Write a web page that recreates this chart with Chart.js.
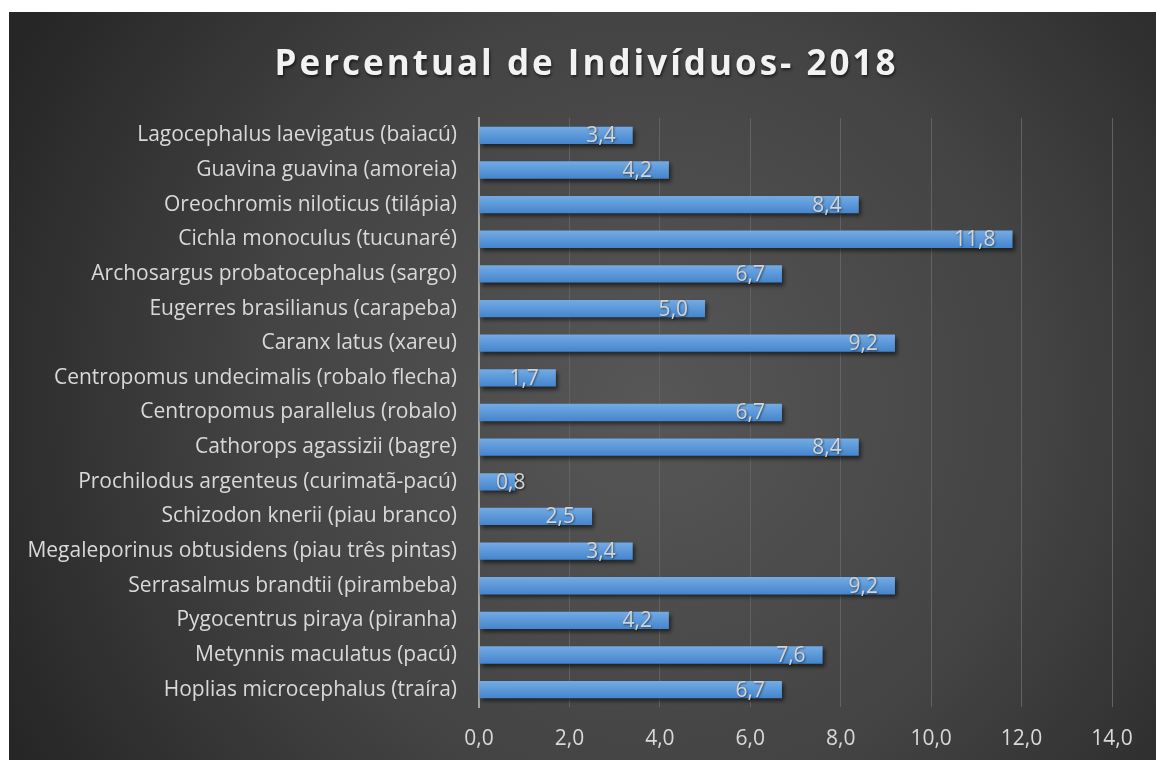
<!DOCTYPE html>
<html>
<head>
<meta charset="utf-8">
<script src="https://cdn.jsdelivr.net/npm/chart.js@4"></script>
<style>
  body { margin: 0; background: #fff; }
  #wrap { position: absolute; left: 9px; top: 12px; width: 1147px; height: 748px; }
</style>
</head>
<body>
<div id="wrap"><canvas id="bar-chart"></canvas></div>
<script>
var titleText = "Percentual de Indivíduos- 2018";

var species = [
  "Lagocephalus laevigatus (baiacú)",
  "Guavina guavina (amoreia)",
  "Oreochromis niloticus (tilápia)",
  "Cichla monoculus (tucunaré)",
  "Archosargus probatocephalus (sargo)",
  "Eugerres brasilianus (carapeba)",
  "Caranx latus (xareu)",
  "Centropomus undecimalis (robalo flecha)",
  "Centropomus parallelus (robalo)",
  "Cathorops agassizii (bagre)",
  "Prochilodus argenteus (curimatã-pacú)",
  "Schizodon knerii (piau branco)",
  "Megaleporinus obtusidens (piau três pintas)",
  "Serrasalmus brandtii (pirambeba)",
  "Pygocentrus piraya (piranha)",
  "Metynnis maculatus (pacú)",
  "Hoplias microcephalus (traíra)"
];

var percent = [3.4, 4.2, 8.4, 11.8, 6.7, 5.0, 9.2, 1.7, 6.7, 8.4, 0.8, 2.5, 3.4, 9.2, 4.2, 7.6, 6.7];

var xMin = 0, xMax = 14, xStep = 2;

function fmt(v) {
  return v.toFixed(1).replace(".", ",");
}

// dark radial background, title, bar shadows/gradient and value labels
var backgroundPlugin = {
  id: "background",
  beforeDraw: function(chart) {
    var ctx = chart.ctx;
    var w = chart.width, h = chart.height;
    ctx.save();
    var g = ctx.createRadialGradient(640, 390, 0, 640, 390, 720);
    g.addColorStop(0, "#575757");
    g.addColorStop(0.55, "#434343");
    g.addColorStop(1, "#262626");
    ctx.fillStyle = g;
    ctx.fillRect(0, 0, w, h);

    ctx.font = "bold 35px 'Open Sans'";
    ctx.letterSpacing = "3px";
    ctx.fillStyle = "#f2f2f2";
    ctx.textAlign = "center";
    ctx.textBaseline = "alphabetic";
    ctx.shadowColor = "rgba(0,0,0,0.6)";
    ctx.shadowOffsetX = 1;
    ctx.shadowOffsetY = 2;
    ctx.shadowBlur = 3;
    ctx.fillText(titleText, w / 2 + 4, 63);
    ctx.restore();
  },
  beforeDatasetsDraw: function(chart) {
    var ctx = chart.ctx;
    // vertical gradient on each bar (own options object per bar)
    chart.getDatasetMeta(0).data.forEach(function(bar) {
      var half = bar.height / 2;
      var g = ctx.createLinearGradient(0, bar.y - half, 0, bar.y + half);
      g.addColorStop(0, "#73abe4");
      g.addColorStop(1, "#4585cd");
      var opts = Object.create(bar.options);
      opts.backgroundColor = g;
      bar.options = opts;
    });
    ctx.save();
    ctx.shadowColor = "rgba(0,0,0,0.55)";
    ctx.shadowOffsetX = 2;
    ctx.shadowOffsetY = 3;
    ctx.shadowBlur = 4;
  },
  afterDatasetsDraw: function(chart) {
    var ctx = chart.ctx;
    ctx.restore();
    var meta = chart.getDatasetMeta(0);
    var base = chart.scales.x.getPixelForValue(0);
    ctx.save();
    ctx.font = "21px 'Open Sans'";
    ctx.fillStyle = "#d4d4d4";
    ctx.textAlign = "right";
    ctx.textBaseline = "middle";
    ctx.shadowColor = "rgba(0,0,0,0.5)";
    ctx.shadowOffsetX = 1;
    ctx.shadowOffsetY = 1;
    ctx.shadowBlur = 2;
    meta.data.forEach(function(bar, i) {
      var txt = fmt(percent[i]);
      var tw = ctx.measureText(txt).width;
      var x = Math.max(bar.x - 17, base + 17 + tw);
      ctx.fillText(txt, x, bar.y + 1);
    });
    ctx.restore();
  }
};

document.addEventListener("DOMContentLoaded", function() {
  var ctx = document.getElementById("bar-chart").getContext("2d");

  new Chart(ctx, {
    type: "bar",
    data: {
      labels: species,
      datasets: [
        {
          data: percent,
          backgroundColor: "#5898dc",
          borderWidth: 0,
          barPercentage: 0.5,
          categoryPercentage: 1
        }
      ]
    },
    options: {
      indexAxis: "y",
      responsive: true,
      maintainAspectRatio: false,
      animation: false,
      layout: {
        padding: { top: 106, right: 44, left: 0, bottom: 0 }
      },
      plugins: {
        legend: { display: false },
        tooltip: { enabled: false },
        title: { display: false }
      },
      scales: {
        x: {
          min: xMin,
          max: xMax,
          ticks: {
            stepSize: xStep,
            color: "#d9d9d9",
            font: { family: "'Open Sans'", size: 21 },
            padding: 19,
            callback: function(v) { return fmt(v); }
          },
          grid: {
            color: function(c) { return c.index === 0 ? "rgba(0,0,0,0)" : "#626262"; },
            lineWidth: 1,
            drawTicks: false
          },
          border: { display: false },
          afterFit: function(scale) { scale.height = 53; }
        },
        y: {
          ticks: {
            color: "#d9d9d9",
            font: { family: "'Open Sans'", size: 21 },
            padding: 22,
            autoSkip: false
          },
          grid: { display: false, drawTicks: false },
          border: { display: true, color: "#a3a3a3", width: 2 },
          afterFit: function(scale) { scale.width = 470; }
        }
      }
    },
    plugins: [backgroundPlugin]
  });
});
</script>
</body>
</html>
